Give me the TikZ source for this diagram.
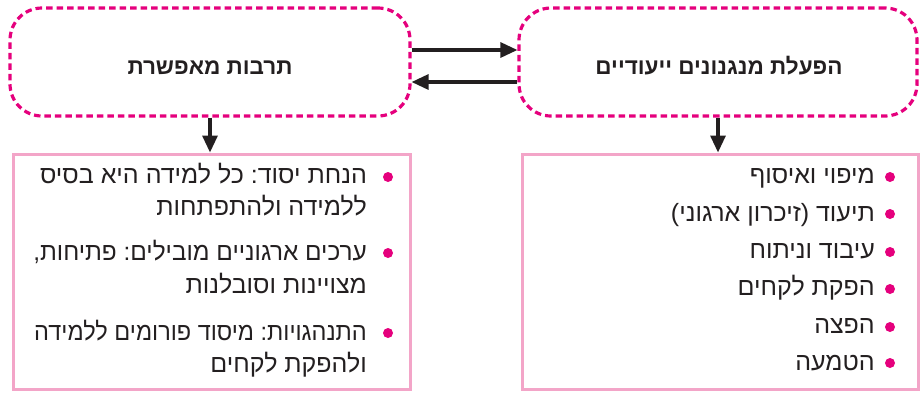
\documentclass[tikz,border=0pt]{standalone}
\usepackage{fontspec}
\usepackage{graphicx}
\newfontfamily\hebfont[Script=Hebrew]{Liberation Sans}
\TeXXeTstate=1
\frenchspacing
\usetikzlibrary{arrows.meta}
\definecolor{magentaline}{HTML}{E5007D}
\definecolor{pinkframe}{HTML}{F3A5C8}
\definecolor{inkblack}{HTML}{231F20}
\begin{document}
\begin{tikzpicture}[x=1pt,y=-1pt,
  topbox/.style={draw=magentaline, line width=3.2pt, dash pattern=on 6.5pt off 4pt,
    rounded corners=32pt, minimum width=400pt, minimum height=108pt, inner sep=0pt},
  listbox/.style={draw=pinkframe, line width=3pt, minimum height=235pt, inner sep=0pt},
  flow/.style={draw=inkblack, line width=3.2pt, -{Triangle[length=17pt,width=15pt]}},
  title/.style={font=\hebfont\bfseries\fontsize{22.5}{26}\selectfont, text=inkblack,
    anchor=base, inner sep=0pt},
  item/.style={font=\hebfont\fontsize{25}{29}\selectfont, text=inkblack, anchor=base east, inner sep=0pt},
  dot/.style={circle, fill=magentaline, minimum size=10pt, inner sep=0pt}]
\useasboundingbox (0,0) rectangle (921,392);

% top row: the two dotted rounded boxes and their titles
\node[topbox] (culture) at (210,62) {};
\node[topbox, minimum width=398pt] (mech) at (718,62) {};
\node[title] (culturetitle) at (210,74) {\beginR תרבות מאפשרת\endR};
\node[title] (mechtitle) at (719,74) {\beginR הפעלת מנגנונים ייעודיים\endR};

% two-way link between the top boxes
\draw[flow] (culture.east |- 0,50) -- (mech.west |- 0,50);
\draw[flow] (mech.west |- 0,82) -- (culture.east |- 0,82);

% lower list boxes
\node[listbox, minimum width=397pt] (values) at (211.5,271.5) {};
\node[listbox, minimum width=396pt] (steps) at (720,271.5) {};

\draw[flow] (culture.south -| 210,0) -- (values.north -| 210,0);
\draw[flow] (mech.south -| 718,0) -- (steps.north -| 718,0);

% left list (the two longest lines are set slightly narrower to fit the frame)
\node[dot] (vd1) at (388,177) {};
\node[item] (vl1) at (367,183) {\beginR הנחת יסוד: כל למידה היא בסיס\endR};
\node[item] (vl2) at (367,215) {\beginR ללמידה ולהתפתחות\endR};
\node[dot] (vd2) at (388,253) {};
\node[item] (vl3) at (367,260) {\scalebox{0.975}[1]{\beginR ערכים ארגוניים מובילים: פתיחות,\endR}};
\node[item] (vl4) at (367,293) {\beginR מצויינות וסובלנות\endR};
\node[dot] (vd3) at (388,333) {};
\node[item] (vl5) at (367,340) {\scalebox{0.94}[1]{\beginR התנהגויות: מיסוד פורומים ללמידה\endR}};
\node[item] (vl6) at (367,372) {\beginR ולהפקת לקחים\endR};

% right list
\node[dot] (sd1) at (890,177) {};
\node[item] (sl1) at (875,183) {\beginR מיפוי ואיסוף\endR};
\node[dot] (sd2) at (890,214) {};
\node[item] (sl2) at (875,221) {\beginR תיעוד (זיכרון ארגוני)\endR};
\node[dot] (sd3) at (890,252) {};
\node[item] (sl3) at (875,258) {\beginR עיבוד וניתוח\endR};
\node[dot] (sd4) at (890,289) {};
\node[item] (sl4) at (875,295) {\beginR הפקת לקחים\endR};
\node[dot] (sd5) at (890,327) {};
\node[item] (sl5) at (875,333) {\beginR הפצה\endR};
\node[dot] (sd6) at (890,363) {};
\node[item] (sl6) at (875,370) {\beginR הטמעה\endR};
\end{tikzpicture}
\end{document}
